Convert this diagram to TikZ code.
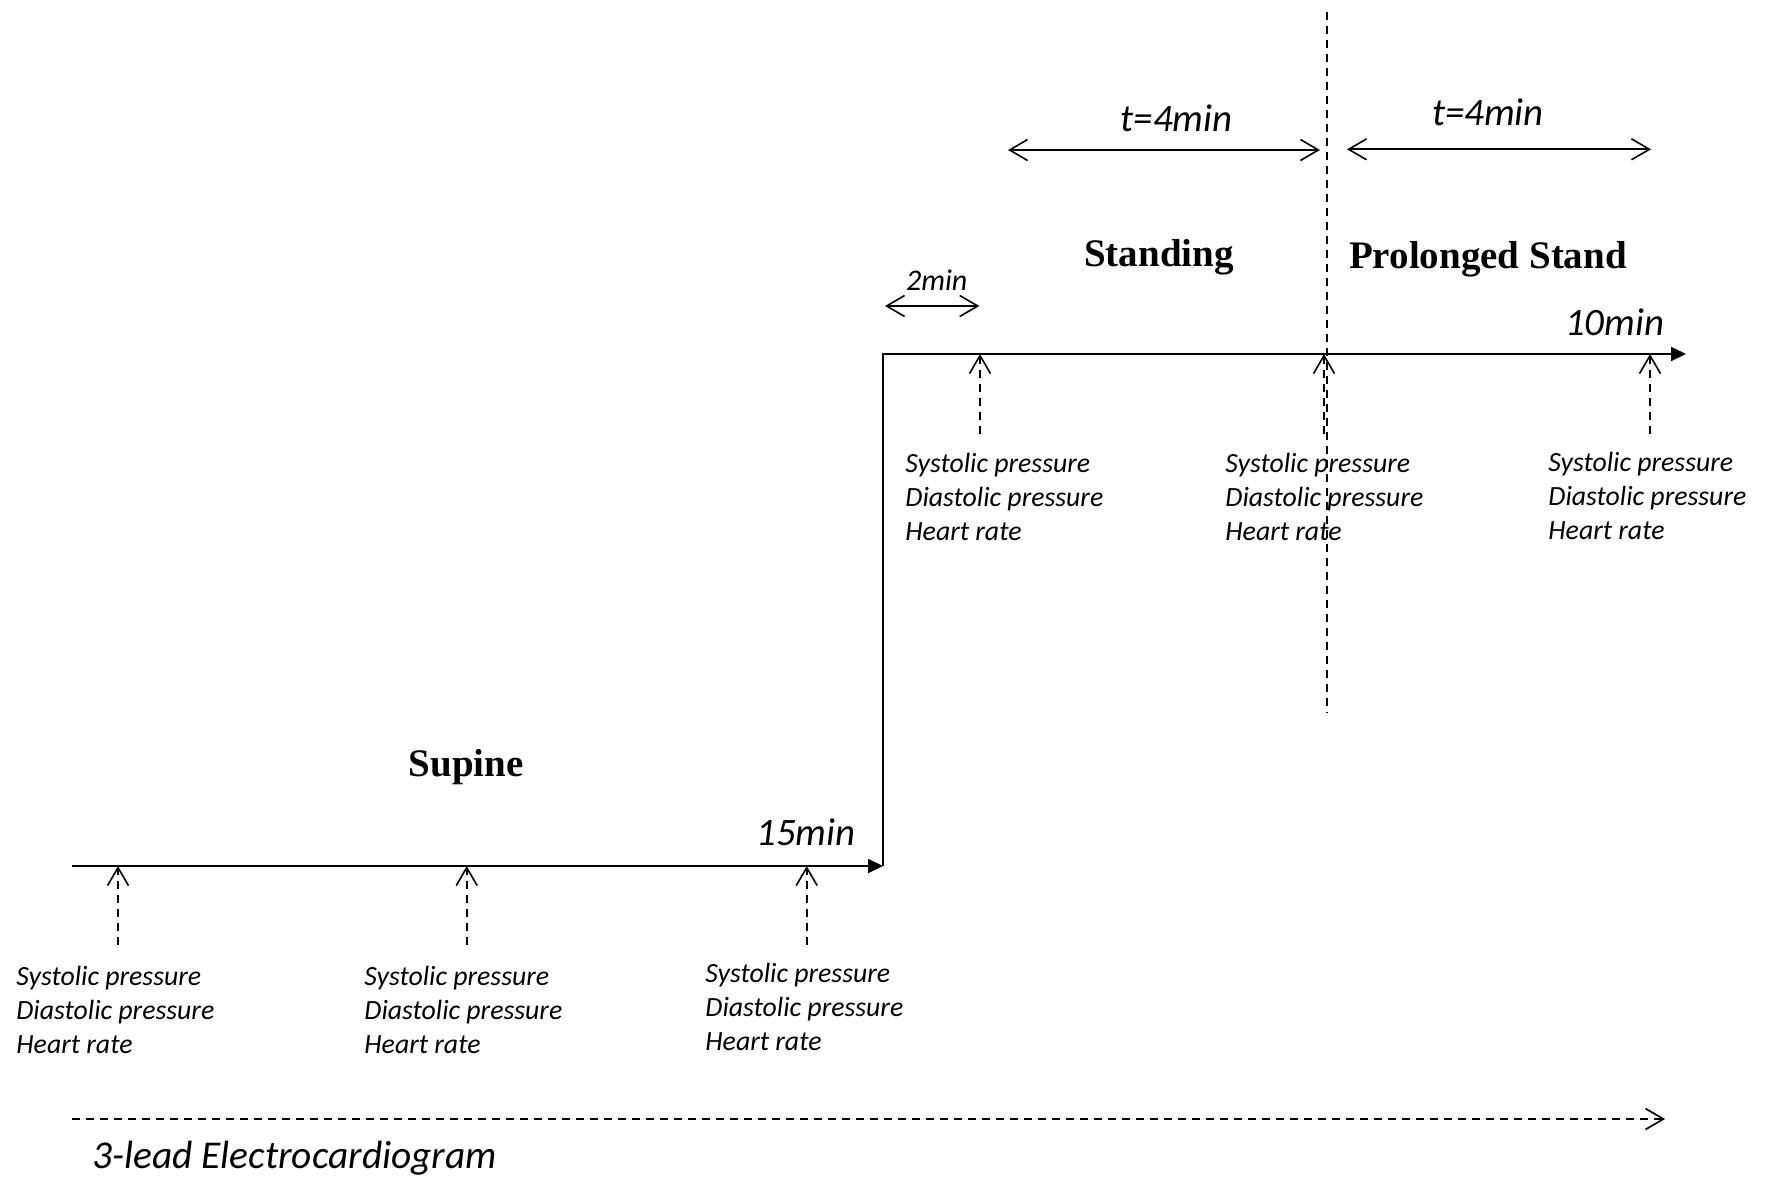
\documentclass[tikz,border=0pt]{standalone}
\usepackage{fontspec}
\setmainfont{Liberation Serif}
\newfontfamily\calfont{Carlito}
\usetikzlibrary{arrows.meta}
\tikzset{
  solidline/.style={line width=0.9pt},
  dashline/.style={line width=0.9pt, dash pattern=on 4pt off 3pt},
  barb/.style={-{Straight Barb[length=9pt,width=10.5pt,line width=0.8pt]}},
  dbarb/.style={{Straight Barb[length=9pt,width=10.5pt,line width=0.8pt]}-{Straight Barb[length=9pt,width=10.5pt,line width=0.8pt]}},
  tri/.style={-{Triangle[length=7.5pt,width=7pt]}},
  meas/.style={inner sep=0pt, anchor=base west, font=\calfont\itshape\fontsize{13.9}{17}\selectfont},
  biglab/.style={inner sep=0pt, anchor=base, font=\calfont\itshape\fontsize{19.4}{23}\selectfont},
  smalllab/.style={inner sep=0pt, anchor=base, font=\calfont\itshape\fontsize{15}{17}\selectfont},
  phase/.style={inner sep=0pt, anchor=base, font=\bfseries\fontsize{19.5}{23}\selectfont},
}
\newcommand{\measlist}{\begin{tabular}[t]{@{}l@{}}Systolic pressure\\Diastolic pressure\\Heart rate\end{tabular}}
\begin{document}
\begin{tikzpicture}[x=0.5pt,y=-0.5pt]
\useasboundingbox (0,0) rectangle (1766,1179);
% main timeline
\coordinate (s0) at (72,866);
\coordinate (s1) at (883,866);
\coordinate (u0) at (883,354);
\coordinate (u1) at (1686,354);
\draw[solidline,tri] (s0) -- (s1);
\draw[solidline,tri] (s1) -- (u0) -- (u1);
% lower ticks
\foreach \n/\x in {a/118,b/466.7,c/806.7}{
  \coordinate (\n top) at (\x,866);
  \coordinate (\n bot) at (\x,945);
  \draw[dashline,barb] (\n bot) -- (\n top);
}
% upper ticks
\foreach \n/\x in {d/980,e/1324,f/1650}{
  \coordinate (\n top) at (\x,354);
  \coordinate (\n bot) at (\x,434);
  \draw[dashline,barb] (\n bot) -- (\n top);
}
% measurement texts
\node[meas] (ma) at (16,985) {\measlist};
\node[meas] (mb) at (364,985) {\measlist};
\node[meas] (mc) at (705,982) {\measlist};
\node[meas] (md) at (905,472.7) {\measlist};
\node[meas] (me) at (1225,472.7) {\measlist};
\node[meas] (mf) at (1548,471.7) {\measlist};
% vertical divider
\coordinate (v0) at (1327,12);
\coordinate (v1) at (1327,713);
\draw[dashline] (v0) -- (v1);
% duration arrows
\coordinate (p0) at (885,306);
\coordinate (p1) at (979.3,306);
\draw[solidline,dbarb] (p0) -- (p1);
\node[smalllab] (two) at (936.7,290.7) {2min};
\coordinate (q0) at (1008,150);
\coordinate (q1) at (1320,150);
\draw[solidline,dbarb] (q0) -- (q1);
\node[biglab] (t1) at (1176.7,131.7) {t=4min};
\coordinate (r0) at (1347,149.3);
\coordinate (r1) at (1651,149.3);
\draw[solidline,dbarb] (r0) -- (r1);
\node[biglab] (t2) at (1488,125) {t=4min};
% phase labels
\node[phase] (standing) at (1159,266.7) {Standing};
\node[phase] (prolonged) at (1488,268.3) {Prolonged Stand};
\node[phase] (supine) at (466.3,776.7) {Supine};
\node[biglab] (fifteen) at (806,845) {15min};
\node[biglab] (ten) at (1614.5,335) {10min};
% ECG
\coordinate (e0) at (72,1119);
\coordinate (e1) at (1665,1119);
\draw[dashline,barb] (e0) -- (e1);
\node[inner sep=0pt, anchor=base west, font=\calfont\itshape\fontsize{19.7}{24}\selectfont] (ecg) at (92,1168) {3-lead Electrocardiogram};
\end{tikzpicture}
\end{document}
